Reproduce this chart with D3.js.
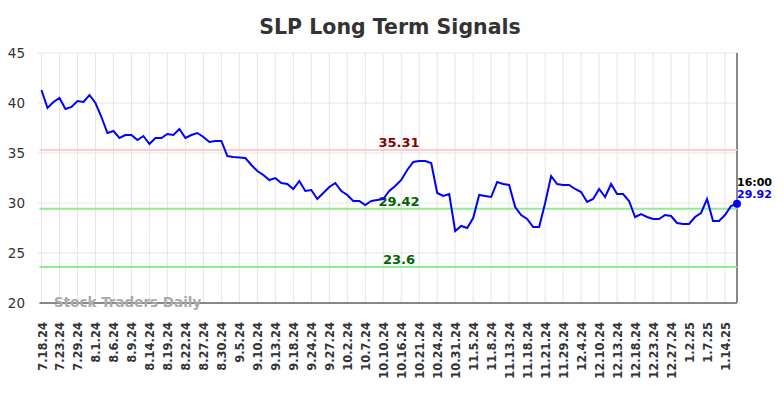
<!DOCTYPE html>
<html>
<head>
<meta charset="utf-8">
<script src="https://cdn.jsdelivr.net/npm/d3@7"></script>
<style>
  body { margin: 0; background: #fff; }
  svg text { font-family: "DejaVu Sans", sans-serif; }
</style>
</head>
<body>
<svg id="chart" width="784" height="398"></svg>
<script>
// ---- data ----
var title = "SLP Long Term Signals";
var tickLabels = ["7.18.24","7.23.24","7.29.24","8.1.24","8.6.24","8.9.24","8.14.24","8.19.24",
  "8.22.24","8.27.24","8.30.24","9.5.24","9.10.24","9.13.24","9.18.24","9.24.24","9.27.24",
  "10.2.24","10.7.24","10.10.24","10.16.24","10.21.24","10.24.24","10.31.24","11.5.24","11.8.24",
  "11.13.24","11.18.24","11.21.24","11.29.24","12.4.24","12.10.24","12.13.24","12.18.24",
  "12.23.24","12.27.24","1.2.25","1.7.25","1.14.25"];
var prices = [41.3,39.5,40.1,40.5,39.4,39.6,40.2,40.1,40.8,40.0,
  38.6,37.0,37.2,36.5,36.8,36.8,36.3,36.7,35.9,36.5,
  36.5,36.9,36.8,37.4,36.5,36.8,37.0,36.6,36.1,36.2,
  36.2,34.7,34.6,34.55,34.5,33.8,33.2,32.8,32.3,32.5,
  32.0,31.9,31.4,32.2,31.2,31.3,30.4,31.0,31.6,32.0,
  31.2,30.8,30.2,30.2,29.8,30.2,30.3,30.4,31.2,31.7,
  32.3,33.3,34.1,34.2,34.2,34.0,31.0,30.7,30.9,27.2,
  27.7,27.5,28.5,30.8,30.7,30.6,32.1,31.9,31.8,29.6,
  28.8,28.4,27.6,27.6,30.0,32.7,31.9,31.8,31.8,31.4,
  31.1,30.1,30.4,31.4,30.6,31.9,30.9,30.9,30.2,28.6,
  28.9,28.6,28.4,28.4,28.8,28.7,28.0,27.9,27.9,28.6,
  29.0,30.4,28.2,28.2,28.8,29.7,29.92];
var levelValues = [35.31, 29.42, 23.6];
var levelKinds = ["resistance", "support", "support"];
var yTicks = [20, 25, 30, 35, 40, 45];
var lastTime = "16:00";

// ---- layout ----
var svg = d3.select("#chart");
var L = 41.5, R = 737, T = 53, B = 303;

var x = d3.scaleLinear().domain([0, prices.length - 1]).range([L, R]);
var y = d3.scaleLinear().domain([20, 45]).range([B, T]);

var lineColor = { resistance: "#ffcccc", support: "#90ee90" };
var textColor = { resistance: "#8b0000", support: "#006400" };

// title
svg.append("text")
    .attr("x", 390).attr("y", 34)
    .attr("text-anchor", "middle")
    .attr("font-size", 20.5).attr("font-weight", "bold")
    .attr("fill", "#333")
    .text(title);

// grid: horizontal
svg.append("g").selectAll("line").data(yTicks).enter().append("line")
    .attr("x1", L - 4).attr("x2", R)
    .attr("y1", function(d){ return y(d); }).attr("y2", function(d){ return y(d); })
    .attr("stroke", "#e6e6e6").attr("stroke-width", 1);

// grid: vertical (one every 3 points)
var tickIdx = tickLabels.map(function(d, i){ return i * 3; });
svg.append("g").selectAll("line").data(tickIdx).enter().append("line")
    .attr("x1", function(d){ return x(d); }).attr("x2", function(d){ return x(d); })
    .attr("y1", T).attr("y2", B)
    .attr("stroke", "#e6e6e6").attr("stroke-width", 1);

// y labels
svg.append("g").selectAll("text").data(yTicks).enter().append("text")
    .attr("x", 25).attr("y", function(d){ return y(d) + 5; })
    .attr("text-anchor", "end")
    .attr("font-size", 13.5).attr("fill", "#333")
    .text(function(d){ return d; });

// x labels
svg.append("g").selectAll("text").data(tickLabels).enter().append("text")
    .attr("transform", function(d, i){ return "translate(" + (x(i * 3) + 5) + ",322) rotate(-90)"; })
    .attr("text-anchor", "end")
    .attr("font-size", 11.5).attr("font-weight", "bold").attr("fill", "#333")
    .text(function(d){ return d; });

// axis lines
svg.append("line").attr("x1", L - 2).attr("x2", R).attr("y1", B).attr("y2", B)
    .attr("stroke", "#666").attr("stroke-width", 1.5);
svg.append("line").attr("x1", R).attr("x2", R).attr("y1", T).attr("y2", B)
    .attr("stroke", "#888").attr("stroke-width", 2);

// watermark
svg.append("text")
    .attr("x", 54).attr("y", 307)
    .attr("font-size", 13.5).attr("font-weight", "bold").attr("fill", "#aaa")
    .text("Stock Traders Daily");

// levels
levelValues.forEach(function(v, i){
  svg.append("line")
      .attr("x1", L - 2).attr("x2", R)
      .attr("y1", y(v)).attr("y2", y(v))
      .attr("stroke", lineColor[levelKinds[i]]).attr("stroke-width", 2);
  svg.append("text")
      .attr("x", 399).attr("y", y(v) - 3)
      .attr("text-anchor", "middle")
      .attr("font-size", 13).attr("font-weight", "bold")
      .attr("fill", textColor[levelKinds[i]])
      .text(v);
});

// price line
var lineGen = d3.line()
    .x(function(d, i){ return x(i); })
    .y(function(d){ return y(d); });
svg.append("path")
    .attr("d", lineGen(prices))
    .attr("fill", "none")
    .attr("stroke", "#0000ff").attr("stroke-width", 2);

// last point
var li = prices.length - 1;
svg.append("circle")
    .attr("cx", x(li)).attr("cy", y(prices[li])).attr("r", 4)
    .attr("fill", "#0000ff");
svg.append("text")
    .attr("x", x(li)).attr("y", y(prices[li]) - 18)
    .attr("font-size", 11).attr("font-weight", "bold").attr("fill", "#000")
    .text(lastTime);
svg.append("text")
    .attr("x", x(li)).attr("y", y(prices[li]) - 6)
    .attr("font-size", 11).attr("font-weight", "bold").attr("fill", "#0000ff")
    .text(prices[li]);
</script>
</body>
</html>
